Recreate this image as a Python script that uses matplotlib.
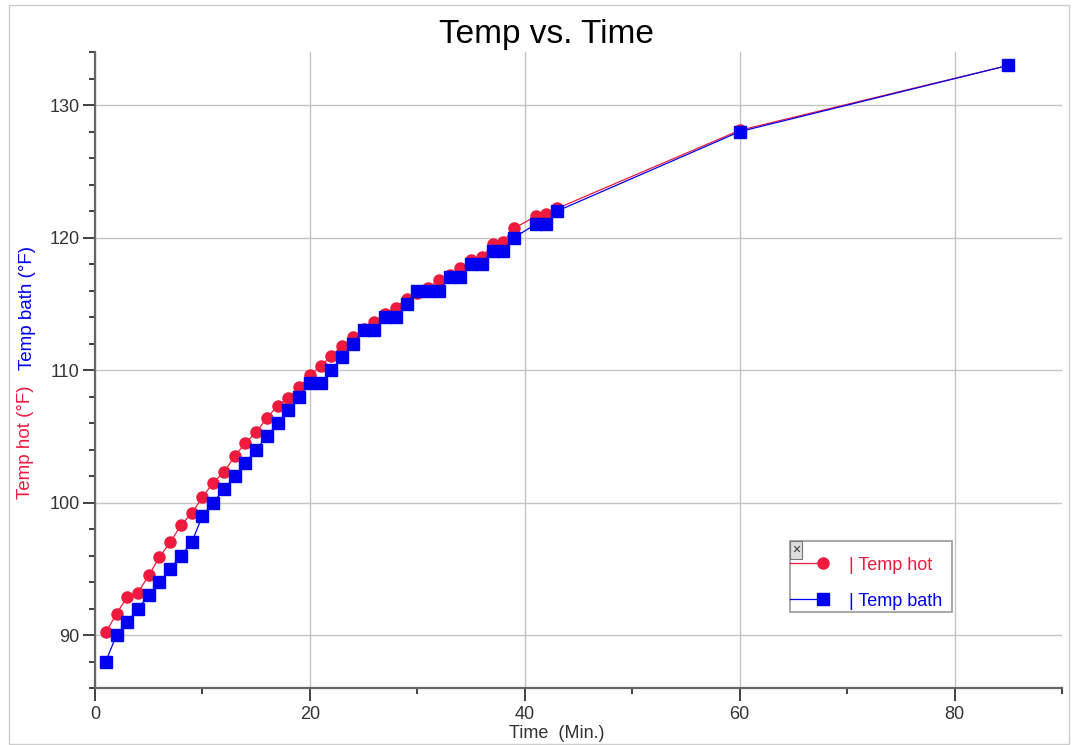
import matplotlib.pyplot as plt
from matplotlib.lines import Line2D
from matplotlib.legend_handler import HandlerLine2D
from matplotlib.patches import Rectangle
from matplotlib.ticker import MultipleLocator

plt.rcParams['font.family'] = ['Liberation Sans', 'DejaVu Sans']

# time in minutes (no reading at 40)
time_min = [1, 2, 3, 4, 5, 6, 7, 8, 9, 10, 11, 12, 13, 14, 15, 16, 17, 18, 19, 20,
            21, 22, 23, 24, 25, 26, 27, 28, 29, 30, 31, 32, 33, 34, 35, 36, 37, 38, 39,
            41, 42, 43, 60, 85]
temp_hot = [90.2, 91.6, 92.9, 93.2, 94.5, 95.9, 97.0, 98.3, 99.2, 100.4,
            101.5, 102.3, 103.5, 104.5, 105.3, 106.4, 107.3, 107.9, 108.7, 109.6,
            110.3, 111.1, 111.8, 112.5, 113.1, 113.6, 114.2, 114.7, 115.4, 115.8,
            116.2, 116.8, 117.2, 117.7, 118.3, 118.5, 119.5, 119.7, 120.7,
            121.6, 121.8, 122.2, 128.1, 133.0]
temp_bath = [88, 90, 91, 92, 93, 94, 95, 96, 97, 99,
             100, 101, 102, 103, 104, 105, 106, 107, 108, 109,
             109, 110, 111, 112, 113, 113, 114, 114, 115, 116,
             116, 116, 117, 117, 118, 118, 119, 119, 120,
             121, 121, 122, 128, 133]

red = '#EE1B3F'
blue = '#0000F0'


class EndMarker(HandlerLine2D):
    # line from the left edge, marker at its right end
    def create_artists(self, legend, orig_handle, xdescent, ydescent,
                       width, height, fontsize, trans):
        y = height / 2 - ydescent
        ln = Line2D([-xdescent - 5.2, width - xdescent], [y, y],
                    color=orig_handle.get_color(), lw=orig_handle.get_linewidth())
        mk = Line2D([width - xdescent], [y], ls='none',
                    marker=orig_handle.get_marker(),
                    markersize=orig_handle.get_markersize(),
                    color=orig_handle.get_color())
        ln.set_transform(trans)
        mk.set_transform(trans)
        return [ln, mk]


fig = plt.figure(figsize=(10.75, 7.45), dpi=100)
ax = fig.add_axes([0.0884, 0.0765, 0.8995, 0.8535])

h1, = ax.plot(time_min, temp_hot, color=red, lw=0.9, marker='o', markersize=8,
              label='| Temp hot', zorder=3)
h2, = ax.plot(time_min, temp_bath, color=blue, lw=0.9, marker='s', markersize=8.5,
              label='| Temp bath', zorder=4)

ax.set_xlim(0, 90)
ax.set_ylim(86, 134)
ax.xaxis.set_major_locator(MultipleLocator(20))
ax.xaxis.set_minor_locator(MultipleLocator(10))
ax.yaxis.set_major_locator(MultipleLocator(10))
ax.yaxis.set_minor_locator(MultipleLocator(2))
ax.grid(True, which='major', color='#c4c4c4', lw=1)
ax.set_axisbelow(True)

for s in ['top', 'right']:
    ax.spines[s].set_visible(False)
for s in ['left', 'bottom']:
    ax.spines[s].set_color('#666666')
    ax.spines[s].set_linewidth(1.6)

ax.tick_params(which='major', length=9, width=1.3, color='#333333',
               labelsize=13, labelcolor='#333333', pad=2)
ax.tick_params(which='minor', length=4.5, width=1.3, color='#333333')
ax.tick_params(axis='x', which='major', pad=4)

# legend box drawn separately (more room on top for the close button)
ax.add_patch(Rectangle((0.7187, 0.1195), 0.1675, 0.1116, transform=ax.transAxes,
                       fc='white', ec='#999999', lw=1.2, zorder=6))
leg = ax.legend(handles=[h1, h2], handler_map={Line2D: EndMarker()},
                loc='center left', bbox_to_anchor=(0.7187, 0.165),
                borderaxespad=0, frameon=False, fontsize=13, handlelength=1.45,
                handletextpad=1.4, labelspacing=1.05, borderpad=0.4)
leg.set_zorder(7)
leg.get_texts()[0].set_color(red)
leg.get_texts()[1].set_color(blue)
ax.annotate('×', xy=(0.7207, 0.2285), xycoords='axes fraction', fontsize=10,
            ha='left', va='top', color='#333333', zorder=8,
            bbox=dict(boxstyle='square,pad=0.15', fc='#dddddd', ec='#777777', lw=0.8))

fig.text(0.508, 0.954, 'Temp vs. Time', fontsize=24, ha='center', va='center')
fig.text(0.518, 0.016, 'Time  (Min.)', fontsize=13, ha='center', va='center', color='#333333')
fig.text(0.024, 0.407, 'Temp hot (°F)', fontsize=13.5, rotation=90,
         ha='center', va='center', color=red)
fig.text(0.026, 0.587, 'Temp bath (°F)', fontsize=13.5, rotation=90,
         ha='center', va='center', color=blue)

fig.patches.append(Rectangle((0.008, 0.002), 0.986, 0.991, transform=fig.transFigure,
                             fill=False, edgecolor='#cccccc', lw=1))

plt.savefig('out.png', dpi=100)
